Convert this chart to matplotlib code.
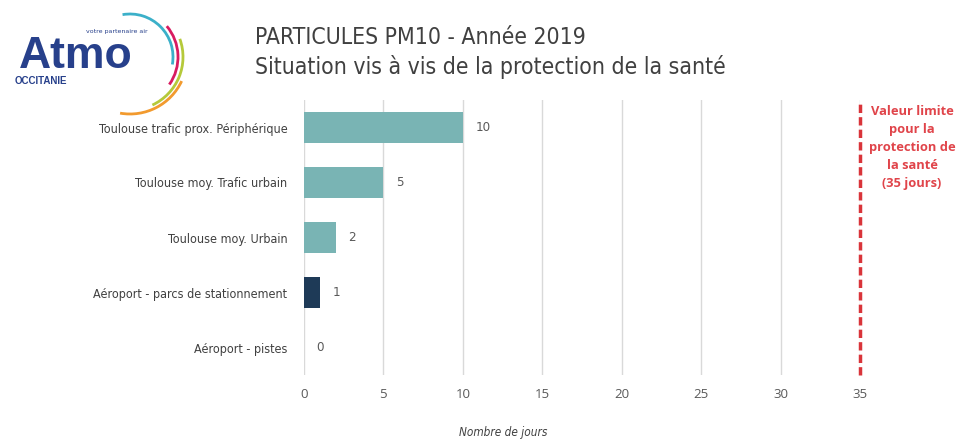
import matplotlib
matplotlib.use("Agg")
import matplotlib.pyplot as plt
from matplotlib.patches import Arc

categories = ["Toulouse trafic prox. Périphérique", "Toulouse moy. Trafic urbain",
              "Toulouse moy. Urbain", "Aéroport - parcs de stationnement", "Aéroport - pistes"]
values = [10, 5, 2, 1, 0]
bar_colors = ["#79b4b4", "#79b4b4", "#79b4b4", "#1e3a57", "#79b4b4"]
xticks = [0, 5, 10, 15, 20, 25, 30, 35]
limit_value = 35

fam = ["DejaVu Sans"]
cond = dict(family=fam, fontstretch="condensed")

fig = plt.figure(figsize=(9.68, 4.4), dpi=100)
ax = fig.add_axes([304/968, 1-375/440, (860-304)/968, 275/440])
y = list(range(len(categories)))
ax.barh(y, values, height=0.55, color=bar_colors, zorder=3)
ax.set_ylim(len(categories)-0.5, -0.5)
ax.set_xlim(0, 35)
ax.set_xticks(xticks)
ax.set_xticklabels([str(t) for t in xticks], fontsize=9.5, color="#595959",
                   family=["Open Sans", "DejaVu Sans"])
ax.set_yticks(y)
ax.set_yticklabels(categories, fontsize=9, color="#404040", **cond)
ax.tick_params(axis="x", length=0, pad=9)
ax.tick_params(axis="y", length=0, pad=12)
for s in ax.spines.values():
    s.set_visible(False)
ax.grid(axis="x", color="#d9d9d9", linewidth=1, zorder=0)
for yi, v in zip(y, values):
    ax.text(v + 0.8, yi, str(v), va="center", ha="left", fontsize=9.5, color="#595959", **cond)
ax.axvline(limit_value, color="#d9343a", linestyle=(0, (2.4, 1.2)), linewidth=2.5, zorder=4,
           clip_on=False)
fig.text(912/968, 1-105/440, "Valeur limite\npour la\nprotection de\nla santé\n(35 jours)",
         ha="center", va="top", color="#e0444a", fontsize=9.3, fontweight="bold",
         family=["Open Sans", "DejaVu Sans"], linespacing=1.5)
fig.text(503/968, 1-432/440, "Nombre de jours", ha="center", va="center", fontsize=8.5,
         style="italic", color="#404040", **cond)

# Titles
fig.text(255/968, 1-37/440, "PARTICULES PM10 - Année 2019", ha="left", va="center",
         fontsize=16.5, color="#404040", **cond)
fig.text(255/968, 1-67/440, "Situation vis à vis de la protection de la santé", ha="left", va="center",
         fontsize=16.5, color="#404040", **cond)

# Logo
lax = fig.add_axes([0, 1-110/440, 200/968, 110/440])
lax.set_xlim(0, 200)
lax.set_ylim(110, 0)
lax.axis("off")
lax.text(19, 56, "Atmo", fontsize=32, color="#27408b", fontweight="bold", va="center", ha="left",
         family=["Liberation Sans", "DejaVu Sans"])
lax.text(15, 81, "OCCITANIE", fontsize=7, color="#27408b", fontweight="bold", va="center", ha="left",
         family=["Liberation Sans", "DejaVu Sans"])
lax.text(148, 31, "votre partenaire air", fontsize=4.5, color="#27408b", va="center", ha="right")
arcs = [("#3bb0c9", 86, -100, 10), ("#d81b60", 96, -40, 35), ("#b5c93a", 106, -20, 65),
        ("#f29a2e", 114, 25, 100)]
for c, d, t1, t2 in arcs:
    lax.add_patch(Arc((130, 57), d, d, theta1=t1, theta2=t2, color=c, linewidth=2, clip_on=False))

fig.savefig("out.png", dpi=100)
